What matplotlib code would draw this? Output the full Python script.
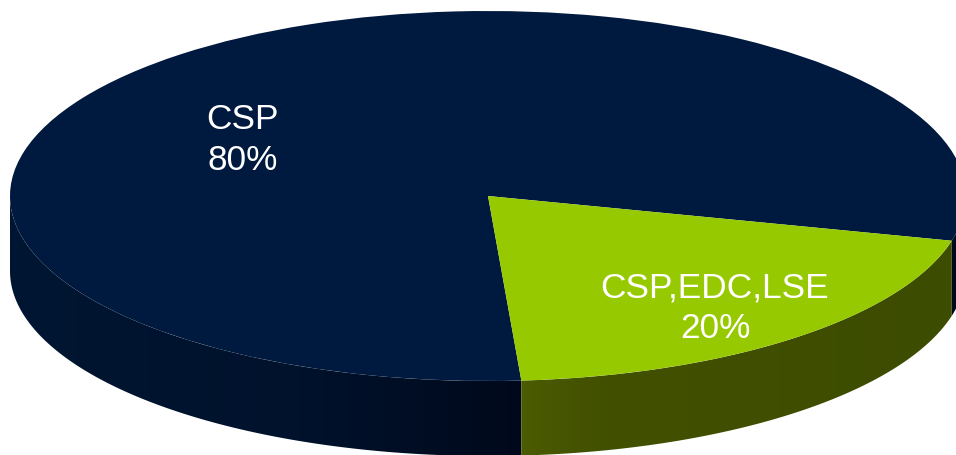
"""Squashed pie with a painted side wall, 80/20 split."""
import numpy as np
import matplotlib

matplotlib.use("Agg")
import matplotlib.pyplot as plt
from matplotlib.patches import Polygon

plt.rcParams["font.family"] = ["Liberation Sans", "DejaVu Sans"]

labels = ["CSP", "CSP,EDC,LSE"]
shares = [80, 20]
top_colors = ["#00193F", "#97C900"]
# side wall shade, (pixel x, colour) stops
wall_x = [[0, 300, 520, 956], [520, 600, 956]]
wall_rgb = [
    [(0, 22, 50), (0, 18, 44), (0, 9, 28), (0, 9, 28)],
    [(76, 92, 0), (66, 80, 0), (60, 76, 0)],
]

W, H = 956, 456
CX, CY, RX, RY = 488, 197, 478, 185
DEPTH = 75 / RY
START = -14

fig = plt.figure(figsize=(W / 100, H / 100), dpi=100)
ax = fig.add_axes([0, 0, 1, 1])
wedges, _ = ax.pie(shares, colors=top_colors, startangle=START, counterclock=True,
                   wedgeprops={"linewidth": 0, "zorder": 5})
ax.set_aspect("auto")
xlim = (-CX / RX, (W - CX) / RX)
ylim = ((CY - H) / RY, CY / RY)
ax.set_xlim(xlim)
ax.set_ylim(ylim)

# side wall: lower half of the rim only, one gradient per slice
for wedge, xs, rgb in zip(wedges, wall_x, wall_rgb):
    a1, a2 = wedge.theta1, wedge.theta2
    spans = []
    for lo, hi in [(a1, a2), (a1 + 360, a2 + 360)]:
        lo, hi = max(lo, 180), min(hi, 360)
        if lo < hi:
            spans.append((lo, hi))
    px = np.arange(W)
    grad = np.stack([np.interp(px, xs, [c[i] for c in rgb]) for i in range(3)], axis=1)
    grad = (grad / 255)[None, :, :]
    for lo, hi in spans:
        t = np.radians(np.linspace(lo, hi, 200))
        upper = np.column_stack([np.cos(t), np.sin(t)])
        lower = np.column_stack([np.cos(t[::-1]), np.sin(t[::-1]) - DEPTH])
        poly = Polygon(np.vstack([upper, lower]), closed=True, fc="none", ec="none",
                       transform=ax.transData)
        ax.add_patch(poly)
        im = ax.imshow(grad, extent=(xlim[0], xlim[1], ylim[0], ylim[1]), aspect="auto",
                       zorder=2, interpolation="bilinear")
        im.set_clip_path(poly)
ax.set_xlim(xlim)
ax.set_ylim(ylim)
ax.set_axis_off()

# labels
ax.text((243 - CX) / RX, (CY - 140) / RY, f"{labels[0]}\n{shares[0]}%", color="white",
        fontsize=25.4, ha="center", va="center", linespacing=1.3, zorder=6)
ax.text((715 - CX) / RX, (CY - 308) / RY, f"{labels[1]}\n{shares[1]}%", color="white",
        fontsize=25.4, ha="center", va="center", linespacing=1.3, zorder=6)

fig.savefig("out.png", dpi=100)
plt.close(fig)
